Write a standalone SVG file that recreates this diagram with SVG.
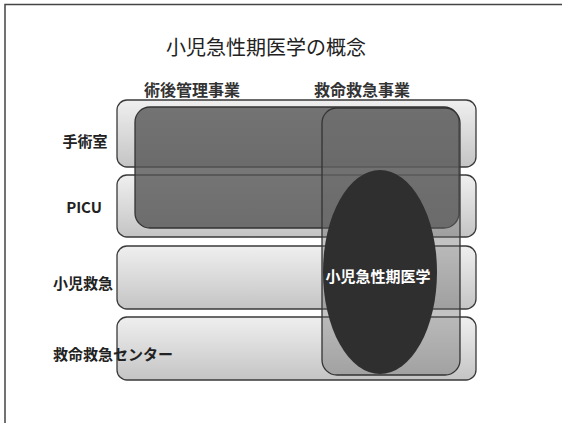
<svg xmlns="http://www.w3.org/2000/svg" width="562" height="423" viewBox="0 0 562 423">
<defs>
<linearGradient id="rowGrad" x1="0" y1="0" x2="0" y2="1">
<stop offset="0" stop-color="#efefef"/>
<stop offset="0.5" stop-color="#dadada"/>
<stop offset="1" stop-color="#c4c4c4"/>
</linearGradient>
<style>
.row{fill:url(#rowGrad);stroke:#3a3a3a;stroke-width:1.3}
.lbl{font-family:"Noto Sans CJK JP","Noto Sans",sans-serif;font-weight:bold;font-size:15px;fill:#222}
.hdr{font-family:"Noto Sans CJK JP","Noto Sans",sans-serif;font-weight:bold;font-size:16px;fill:#333;text-anchor:middle}
</style>
</defs>
<rect x="0" y="0" width="562" height="423" fill="#ffffff"/>
<path d="M5 423 V4.5 H562" fill="none" stroke="#444" stroke-width="1.5"/>
<g id="title">
<text x="266" y="55" font-family="'Noto Sans CJK JP','Noto Sans',sans-serif" font-size="20" fill="#222" text-anchor="middle">小児急性期医学の概念</text>
</g>
<g id="header-postop"><text class="hdr" x="192" y="96">術後管理事業</text></g>
<g id="header-emergency"><text class="hdr" x="362" y="96">救命救急事業</text></g>
<g id="row-or"><rect class="row" x="117" y="100" width="359" height="67" rx="10"/></g>
<g id="row-picu"><rect class="row" x="117" y="175" width="359" height="62" rx="10"/></g>
<g id="row-ped-er"><rect class="row" x="117" y="246" width="359" height="63" rx="10"/></g>
<g id="row-er-center"><rect class="row" x="117" y="317" width="359" height="63" rx="10"/></g>
<g id="postop-area"><rect x="135" y="107" width="324" height="121" rx="15" fill="#555" fill-opacity="0.8" stroke="#333" stroke-width="1.3"/></g>
<g id="emergency-area"><rect x="322" y="108" width="138" height="267" rx="15" fill="#6a6a6a" fill-opacity="0.4" stroke="#333" stroke-width="1.3"/></g>
<g id="pediatric-acute">
<ellipse cx="380" cy="272" rx="57" ry="102" fill="#2f2f2f"/>
<text x="378" y="282" font-family="'Noto Sans CJK JP','Noto Sans',sans-serif" font-size="15" font-weight="bold" fill="#ffffff" text-anchor="middle">小児急性期医学</text>
</g>
<g id="label-or"><text class="lbl" x="85" y="147" text-anchor="middle">手術室</text></g>
<g id="label-picu"><text class="lbl" x="84" y="213" text-anchor="middle">PICU</text></g>
<g id="label-ped-er"><text class="lbl" x="53" y="289">小児救急</text></g>
<g id="label-er-center"><text class="lbl" x="53" y="360">救命救急センター</text></g>
</svg>
